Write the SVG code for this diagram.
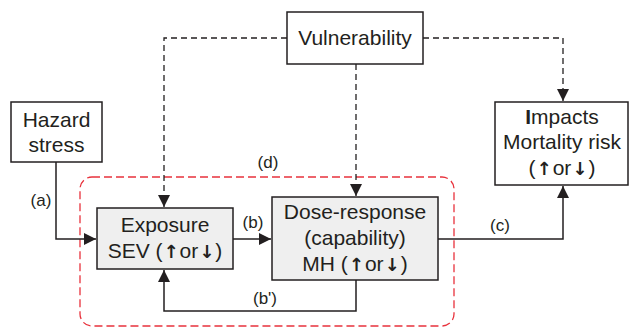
<svg xmlns="http://www.w3.org/2000/svg" width="630" height="327" viewBox="0 0 630 327">
<style>
.box{fill:#fff;stroke:#231f20;stroke-width:1.5}
.gbox{fill:#efefef;stroke:#231f20;stroke-width:1.5}
.t{font-family:"Liberation Sans",Arial,sans-serif;font-size:21px;fill:#231f20;text-anchor:middle}
.l{font-family:"Liberation Sans",Arial,sans-serif;font-size:17px;fill:#231f20;text-anchor:middle}
.b{font-weight:bold}
.a{font-family:"DejaVu Sans",sans-serif;font-weight:bold;font-size:18px}
.c{fill:none;stroke:#231f20;stroke-width:1.5}
.d{fill:none;stroke:#231f20;stroke-width:1.3;stroke-dasharray:6 4}
</style>
<defs>
<marker id="ah" markerUnits="userSpaceOnUse" markerWidth="13" markerHeight="13" refX="12" refY="6" orient="auto">
<path d="M0,0 L12,6 L0,12 z" fill="#231f20"/>
</marker>
</defs>
<rect x="80" y="177" width="374" height="149" rx="12" fill="none" stroke="#e8323c" stroke-width="1.3" stroke-dasharray="8 4"/>
<g id="connectors">
<path class="c" d="M56,162 V239 H96" marker-end="url(#ah)"/>
<path class="c" d="M233,239 H271" marker-end="url(#ah)"/>
<path class="c" d="M438,239 H563 V186" marker-end="url(#ah)"/>
<path class="c" d="M356,280 V311 H164 V270" marker-end="url(#ah)"/>
<path class="d" d="M287,38 H164 V207" marker-end="url(#ah)"/>
<path class="d" d="M356,64 V196" marker-end="url(#ah)"/>
<path class="d" d="M423,38 H563 V101" marker-end="url(#ah)"/>
<text class="l" x="41" y="206">(a)</text>
<text class="l" x="253" y="228">(b)</text>
<text class="l" x="500" y="231">(c)</text>
<text class="l" x="265" y="304">(b')</text>
<text class="l" x="268" y="168">(d)</text>
</g>
<g id="hazard">
<rect class="box" x="11" y="102" width="91" height="60"/>
<text class="t" x="56.5" y="127">Hazard</text>
<text class="t" x="56.5" y="152">stress</text>
</g>
<g id="vulnerability">
<rect class="box" x="287" y="12" width="136" height="52"/>
<text class="t" x="355" y="45">Vulnerability</text>
</g>
<g id="impacts">
<rect class="box" x="495" y="102" width="133" height="83"/>
<text class="t" x="562" y="124"><tspan class="b">I</tspan>mpacts</text>
<text class="t" x="562" y="149">Mortality risk</text>
<text class="t" x="562" y="175">(<tspan class="a" dx="1">↑</tspan><tspan dx="1">or</tspan><tspan class="a" dx="1">↓</tspan><tspan dx="1">)</tspan></text>
</g>
<g id="exposure">
<rect class="gbox" x="97" y="208" width="136" height="61"/>
<text class="t" x="165" y="232">Exposure</text>
<text class="t" x="165" y="258">SEV (<tspan class="a" dx="1">↑</tspan><tspan dx="1">or</tspan><tspan class="a" dx="1">↓</tspan><tspan dx="1">)</tspan></text>
</g>
<g id="dose">
<rect class="gbox" x="272" y="197" width="166" height="83"/>
<text class="t" x="355" y="219">Dose-response</text>
<text class="t" x="355" y="245">(capability)</text>
<text class="t" x="355" y="271">MH (<tspan class="a" dx="1">↑</tspan><tspan dx="1">or</tspan><tspan class="a" dx="1">↓</tspan><tspan dx="1">)</tspan></text>
</g>
</svg>
